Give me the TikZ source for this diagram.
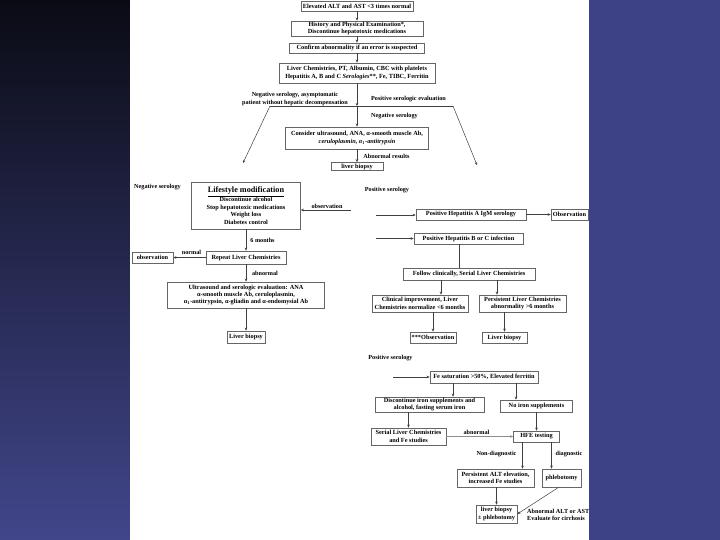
\documentclass[tikz,border=0pt]{standalone}
\usepackage{fontspec}
\setmainfont{Liberation Serif}
\usetikzlibrary{arrows.meta}

\definecolor{slidenavy}{HTML}{3D4286}
\definecolor{slidedark}{HTML}{0A0B14}
\definecolor{slidemid}{HTML}{272A52}
\definecolor{slideblue}{HTML}{41468B}

\begin{document}
\begin{tikzpicture}[x=1pt, y=-1pt,
    box/.style={draw=black!60, line width=0.7pt, fill=white, align=center, inner sep=0.8pt, font=\fontsize{6.3}{7.4}\selectfont\bfseries},
    lbl/.style={inner sep=0pt, align=center, font=\fontsize{6.2}{7.2}\selectfont\bfseries},
    arr/.style={-{Stealth[length=3pt, width=2.6pt]}, draw=black!75, line width=0.5pt},
    ln/.style={draw=black!75, line width=0.5pt}]
    % slide background
    \useasboundingbox (0,0) rectangle (720,540);
    \shade[top color=slidedark, middle color=slidemid, bottom color=slideblue] (0,0) rectangle (130,540);
    \fill[slidenavy] (589,0) rectangle (720,540);
    \fill[white] (130,0) rectangle (589,540);

    % initial work-up
    \node[box, minimum width=112pt, minimum height=10pt] (elev) at (357,6) {Elevated ALT and AST <3 times normal};
    \node[box, minimum width=132pt, minimum height=15pt] (hist) at (357,28.5) {History and Physical Examination*,\\Discontinue hepatotoxic medications};
    \node[box, minimum width=135pt, minimum height=10pt] (confirm) at (357,48) {Confirm abnormality if an error is suspected};
    \node[box, minimum width=156pt, minimum height=20pt] (chem) at (357,73) {Liver Chemistries, PT, Albumin, CBC with platelets\\Hepatitis A, B and C \textit{Serologies}**, Fe, TIBC, Ferritin};

    % serology split
    \coordinate (split) at (357,106);
    \coordinate (splitL) at (270,106);
    \coordinate (splitR) at (453,106);
    \coordinate (tipL) at (243,163);
    \coordinate (tipR) at (477,165);
    \node[lbl] (negasym) at (295,99) {Negative serology, asymptomatic\\patient without hepatic decompensation};
    \node[lbl] (poseval) at (408.5,99) {Positive serologic evaluation};
    \node[lbl] (negser) at (394.5,116) {Negative serology};
    \node[box, minimum width=143pt, minimum height=22pt] (consider) at (357,138) {Consider ultrasound, ANA, α-smooth muscle Ab,\\\textit{ceruloplasmin, α\textsubscript{1}-antitrypsin}};
    \node[lbl] (abres) at (386.5,156) {Abnormal results};
    \node[box, minimum width=52pt, minimum height=8pt, inner sep=0.3pt] (biopsyA) at (357,166.5) {liver biopsy};

    % negative serology branch
    \node[lbl, anchor=west] (negL) at (134,187) {Negative serology};
    \node[box, minimum width=109pt, minimum height=47pt] (life) at (246,205.5) {{\fontsize{8.2}{9.6}\selectfont\underline{Lifestyle modification}}\\Discontinue alcohol\\Stop hepatotoxic medications\\Weight loss\\Diabetes control};
    \coordinate (obsfrom) at (351,210);
    \node[lbl] (obsA) at (327,206) {observation};
    \node[lbl] (sixmo) at (262.5,240) {6 months};
    \node[box, minimum width=80pt, minimum height=13pt] (repeat) at (246,257.5) {Repeat Liver Chemistries};
    \node[box, minimum width=41pt, minimum height=11pt] (obsB) at (152.5,257.5) {observation};
    \node[lbl] (normal) at (191.5,252) {normal};
    \node[lbl] (abnA) at (265,273) {abnormal};
    \node[box, minimum width=157pt, minimum height=26pt] (ultra) at (246,295) {Ultrasound and serologic evaluation: ANA\\α-smooth muscle Ab, ceruloplasmin,\\α\textsubscript{1}-antitrypsin, α-gliadin and α-endomysial Ab};
    \node[box, minimum width=38pt, minimum height=12pt] (biopsyB) at (246,337) {Liver biopsy};

    % positive serology: hepatitis
    \node[lbl] (posA) at (387,190) {Positive serology};
    \coordinate (hepAin) at (376,215);
    \coordinate (hepBCin) at (376,238.5);
    \node[box, minimum width=110pt, minimum height=11pt] (hepA) at (471,214.5) {Positive Hepatitis A IgM serology};
    \node[box, minimum width=37pt, minimum height=11pt] (obsC) at (569.5,214.5) {Observation};
    \node[box, minimum width=109pt, minimum height=11pt] (hepBC) at (468.5,238.5) {Positive Hepatitis B or C infection};
    \node[box, minimum width=132pt, minimum height=12pt] (follow) at (469,274) {Follow clinically, Serial Liver Chemistries};
    \node[box, minimum width=96pt, minimum height=17pt] (clin) at (420,303.5) {Clinical improvement, Liver\\Chemistries normalize <6 months};
    \node[box, minimum width=87pt, minimum height=17pt] (persist) at (522.5,303.5) {Persistent Liver Chemistries\\abnormality >6 months};
    \node[box, minimum width=46pt, minimum height=11pt] (obsD) at (433,337.5) {***Observation};
    \node[box, minimum width=45pt, minimum height=11pt] (biopsyC) at (504.5,337.5) {Liver biopsy};

    % positive serology: iron
    \node[lbl] (posB) at (390.5,358) {Positive serology};
    \coordinate (fein) at (393,377);
    \node[box, minimum width=108pt, minimum height=12pt] (fesat) at (484,377) {Fe saturation >50\%, Elevated ferritin};
    \node[box, minimum width=109pt, minimum height=15pt] (discFe) at (429.5,404.5) {Discontinue iron supplements and\\alcohol, fasting serum iron};
    \node[box, minimum width=72pt, minimum height=12pt] (noiron) at (536.5,406) {No iron supplements};
    \node[box, minimum width=75pt, minimum height=17pt] (serial) at (408.5,436.5) {Serial Liver Chemistries\\and Fe studies};
    \node[box, minimum width=46pt, minimum height=11pt] (hfe) at (536.5,436.5) {HFE testing};
    \node[lbl] (abnB) at (476.5,432) {abnormal};
    \node[lbl] (nondiag) at (496.5,454) {Non-diagnostic};
    \node[lbl] (diag) at (569,454) {diagnostic};
    \node[box, minimum width=77pt, minimum height=18pt] (persalt) at (495.5,478) {Persistent ALT elevation,\\increased Fe studies};
    \node[box, minimum width=39pt, minimum height=18pt] (phleb) at (561.5,478) {phlebotomy};
    \node[box, minimum width=41pt, minimum height=18pt] (biopsyD) at (496.5,514) {liver biopsy\\± phlebotomy};
    \node[lbl, align=left, anchor=west] (cirrh) at (527,514.5) {Abnormal ALT or AST\\Evaluate for cirrhosis};

    % arrows: work-up
    \draw[arr] (elev) -- (hist);
    \draw[arr] (hist) -- (confirm);
    \draw[arr] (confirm) -- (chem);
    \draw[arr] (chem) -- (split);
    \draw[ln] (splitL) -- (splitR);
    \draw[arr] (split) -- (consider);
    \draw[arr] (splitL) -- (tipL);
    \draw[arr] (splitR) -- (tipR);
    \draw[arr] (consider) -- (biopsyA);

    % arrows: negative serology
    \draw[arr] (obsfrom) -- (obsfrom -| life.east);
    \draw[arr] (life) -- (repeat);
    \draw[arr] (repeat) -- (obsB);
    \draw[arr] (repeat) -- (ultra);
    \draw[arr] (ultra) -- (biopsyB);

    % arrows: hepatitis
    \draw[arr] (hepAin) -- (hepAin -| hepA.west);
    \draw[arr] (hepA) -- (obsC);
    \draw[arr] (hepBCin) -- (hepBCin -| hepBC.west);
    \draw[ln] ([xshift=-9.5pt]hepBC.south) -- ([xshift=-9.5pt]hepBC.south |- follow.north);
    \draw[arr] ([xshift=-28pt]follow.south) -- ([xshift=-28pt]follow.south |- clin.north);
    \draw[arr] ([xshift=28pt]follow.south) -- ([xshift=28pt]follow.south |- persist.north);
    \draw[arr] (obsD.north |- clin.south) -- (obsD);
    \draw[arr] (biopsyC.north |- persist.south) -- (biopsyC);

    % arrows: iron
    \draw[arr] (fein) -- (fein -| fesat.west);
    \draw[arr] ([xshift=-31pt]fesat.south) -- ([xshift=-31pt]fesat.south |- discFe.north);
    \draw[arr] ([xshift=32pt]fesat.south) -- ([xshift=32pt]fesat.south |- noiron.north);
    \draw[arr] (serial.north |- discFe.south) -- (serial);
    \draw[arr] (noiron) -- (hfe);
    \draw[arr, draw=black!45] (serial) -- (hfe);
    \draw[arr] ([xshift=-14pt]hfe.south) -- ([xshift=-14pt]hfe.south |- persalt.north);
    \draw[arr] ([xshift=15pt]hfe.south) -- ([xshift=15pt]hfe.south |- phleb.north);
    \draw[arr] (biopsyD.north |- persalt.south) -- (biopsyD);
    \draw[arr] ([xshift=-3pt]phleb.south) -- (biopsyD.east);
  \end{tikzpicture}
\end{document}
